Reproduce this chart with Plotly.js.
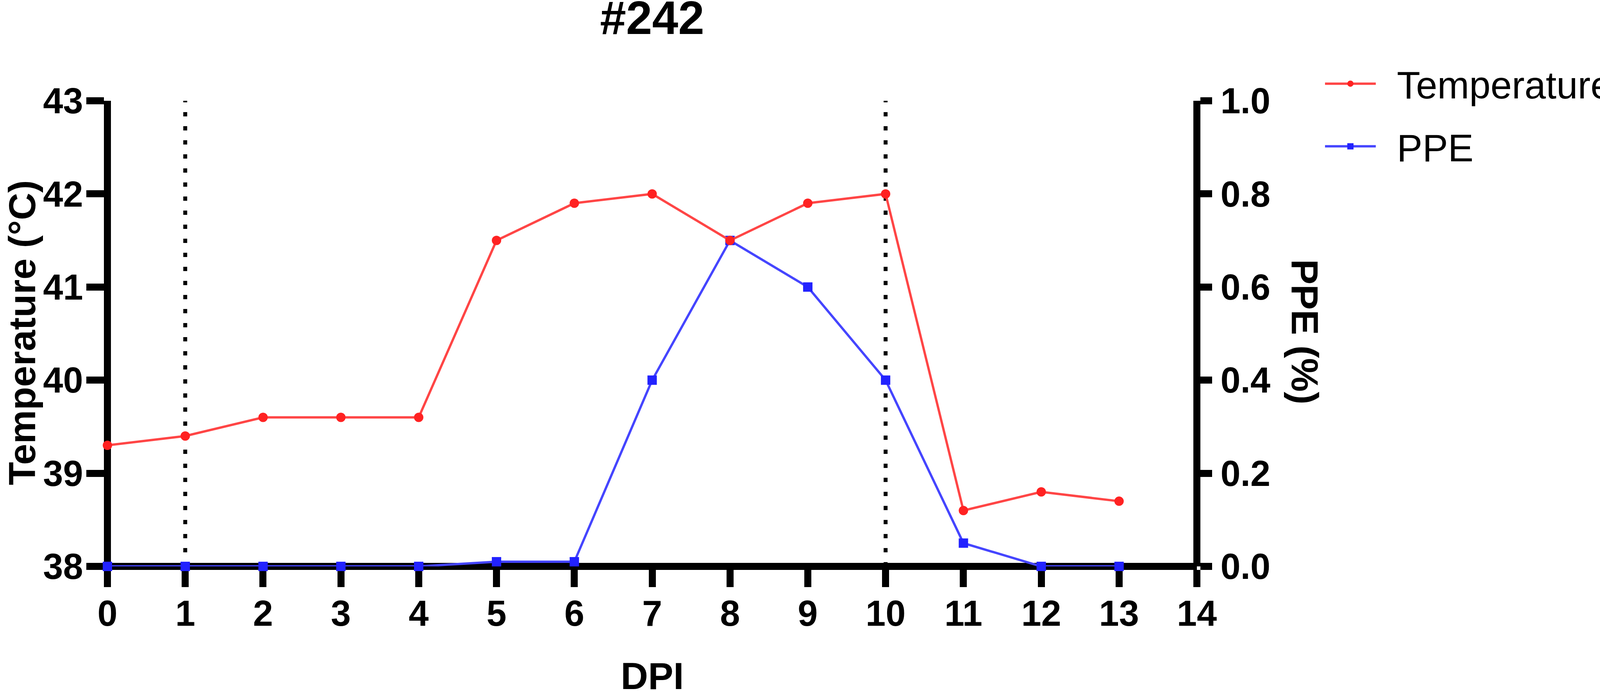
<!DOCTYPE html>
<html>
<head>
<meta charset="utf-8">
<script src="https://cdn.plot.ly/plotly-3.0.1.min.js"></script>
<style>html,body{margin:0;padding:0;background:#fff;overflow:hidden;}</style>
</head>
<body>
<div id="chart"></div>
<script>
// ---- data ----
const chartTitle = '#242';
const days = [0, 1, 2, 3, 4, 5, 6, 7, 8, 9, 10, 11, 12, 13];
const temperature = [39.3, 39.4, 39.6, 39.6, 39.6, 41.5, 41.9, 42.0, 41.5, 41.9, 42.0, 38.6, 38.8, 38.7];
const ppe = [0, 0, 0, 0, 0, 0.01, 0.01, 0.4, 0.7, 0.6, 0.4, 0.05, 0, 0];
const markerDays = [1, 10];
const xTicks = [0, 1, 2, 3, 4, 5, 6, 7, 8, 9, 10, 11, 12, 13, 14];
const tempTicks = [38, 39, 40, 41, 42, 43];
const ppeTicks = [0, 0.2, 0.4, 0.6, 0.8, 1.0];
const ppeTickText = ['0.0', '0.2', '0.4', '0.6', '0.8', '1.0'];
const seriesNames = ['Temperature', 'PPE'];
const xTitle = 'DPI';
const tempTitle = 'Temperature (°C)';
const ppeTitle = 'PPE (%)';

const FONT = 'Liberation Sans, Arial, sans-serif';
// design frame of the reference picture
const DW = 4414, H = 1769;
// the browser viewport may be narrower than the design; fit horizontally
const W = Math.min(window.innerWidth || DW, DW);
const sx = W / DW;
const L = Math.round(296 * sx), R = Math.round(3302 * sx), T = 258, B = 1450;
const GAP = '\u2002';
const px2x = p => (p - L) / (R - L);      // picture px -> x paper
const py2y = p => (B - p) / (B - T);      // picture px -> y paper

const traces = [
  {
    x: days, y: ppe, name: GAP + seriesNames[1], yaxis: 'y', xaxis: 'x',
    mode: 'lines+markers', cliponaxis: false,
    line: {color: '#4545FF', width: 6},
    marker: {symbol: 'square', size: 24, color: '#2222FF'},
    legendrank: 2, legendgroup: 'b'
  },
  {
    x: days, y: temperature, name: GAP + seriesNames[0], yaxis: 'y2', xaxis: 'x',
    mode: 'lines+markers', cliponaxis: false,
    line: {color: '#FF4545', width: 6},
    marker: {symbol: 'circle', size: 24, color: '#FF2222'},
    legendrank: 1, legendgroup: 'a'
  }
];

const shapes = markerDays.map(d => ({
  type: 'line', xref: 'x', yref: 'paper', x0: d, x1: d, y0: 0, y1: 1,
  layer: 'below', line: {color: '#000', width: 10, dash: '11px,25px'}
}));

const tickFont = {family: FONT, size: 92, color: '#000', weight: 'bold'};
const titleFont = {family: FONT, size: 97, color: '#000', weight: 'bold'};

const layout = {
  width: W, height: H,
  paper_bgcolor: '#fff', plot_bgcolor: '#fff',
  margin: {l: L, r: W - R, t: T, b: H - B, pad: 0, autoexpand: false},
  showlegend: true,
  title: {
    text: chartTitle, font: {family: FONT, size: 120, color: '#000', weight: 'bold'},
    xref: 'paper', x: 0.5, xanchor: 'center',
    yref: 'container', y: 1, yanchor: 'top', pad: {t: 3}
  },
  xaxis: {
    range: [0, 14], tickvals: xTicks, ticktext: xTicks.map(String),
    anchor: 'free', position: 0,
    showline: true, linecolor: '#000', linewidth: 18,
    ticks: 'outside', ticklen: 44, tickwidth: 18, tickcolor: '#000',
    tickfont: tickFont, ticklabelstandoff: -11,
    showgrid: false, zeroline: false, layer: 'below traces',
    automargin: false
  },
  yaxis: {
    range: [0, 1], tickvals: ppeTicks, ticktext: ppeTickText,
    side: 'right', anchor: 'free', position: 1,
    showline: true, linecolor: '#000', linewidth: 18,
    ticks: 'outside', ticklen: 30, tickwidth: 18, tickcolor: '#000',
    tickfont: tickFont, ticklabelstandoff: 3,
    showgrid: false, zeroline: false, layer: 'below traces',
    automargin: false
  },
  yaxis2: {
    range: [38, 43], tickvals: tempTicks, ticktext: tempTicks.map(String),
    side: 'left', overlaying: 'y', anchor: 'free', position: 0,
    showline: true, linecolor: '#000', linewidth: 18,
    ticks: 'outside', ticklen: 45, tickwidth: 18, tickcolor: '#000',
    tickfont: tickFont, ticklabelstandoff: -10,
    showgrid: false, zeroline: false, layer: 'below traces',
    automargin: false
  },
  legend: {
    xref: 'container', yref: 'container', x: 3650 / DW, y: 1 - 144 / H,
    xanchor: 'left', yanchor: 'top',
    font: {family: FONT, size: 98, color: '#000'},
    bgcolor: 'rgba(0,0,0,0)', borderwidth: 0,
    traceorder: 'grouped', tracegroupgap: 30, itemwidth: 130
  },
  annotations: [
    {
      text: tempTitle, textangle: -90, showarrow: false,
      xref: 'paper', yref: 'paper', x: px2x(56), y: py2y(852),
      xanchor: 'center', yanchor: 'middle', font: titleFont
    },
    {
      text: ppeTitle, textangle: 90, showarrow: false,
      xref: 'paper', yref: 'paper', x: (3600 - 296) / (3302 - 296), y: py2y(850),
      xanchor: 'center', yanchor: 'middle', font: titleFont
    },
    {
      text: xTitle, showarrow: false,
      xref: 'paper', yref: 'paper', x: 0.5, y: py2y(1731),
      xanchor: 'center', yanchor: 'middle', font: titleFont
    }
  ],
  shapes: shapes
};

Plotly.newPlot('chart', traces, layout, {staticPlot: true, displayModeBar: false});
</script>
</body>
</html>
